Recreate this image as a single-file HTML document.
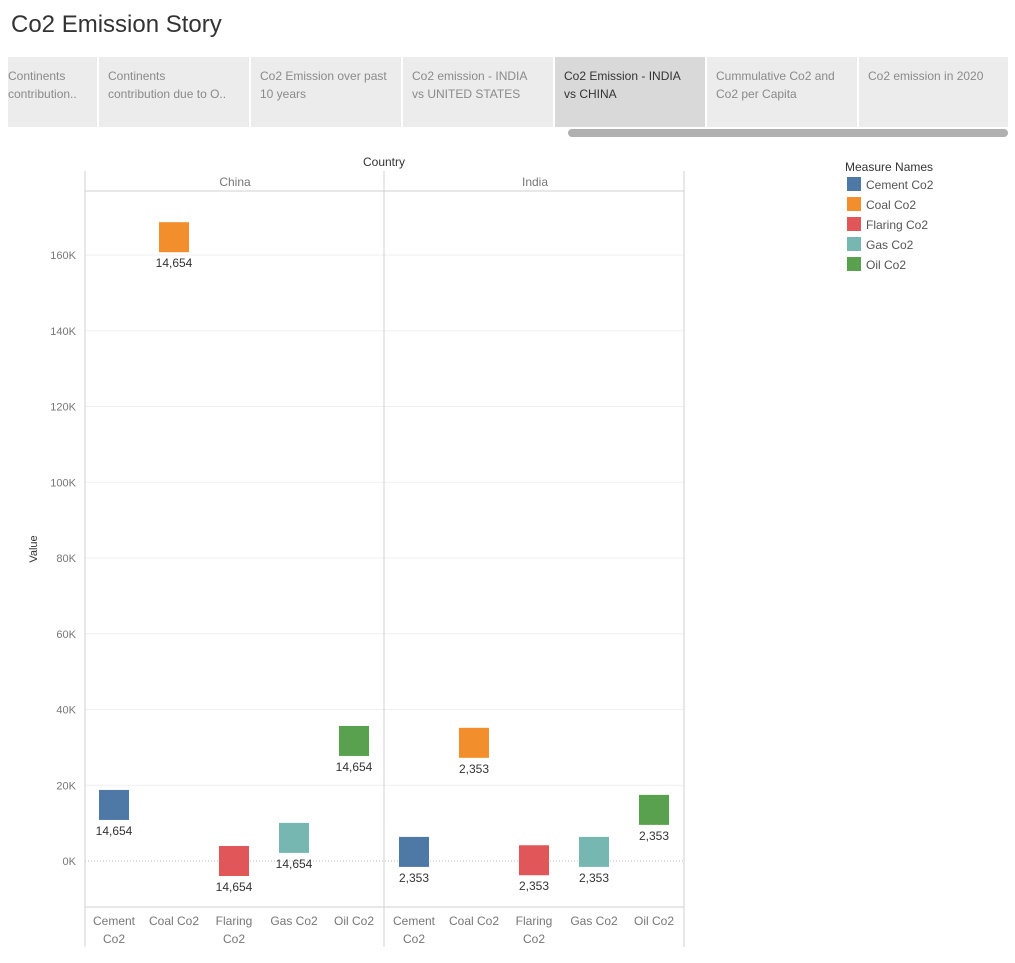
<!DOCTYPE html>
<html><head><meta charset="utf-8"><style>
body{margin:0;width:1015px;height:963px;background:#fff;font-family:"Liberation Sans",sans-serif;position:relative;overflow:hidden}
.t{position:absolute}
.tab{position:absolute;top:57px;height:70px;background:#ececec;color:#8a8a8a;font-size:12px;line-height:18px;padding:10px 0 0 0;box-sizing:border-box}
.tab span{display:block;margin-left:9px}
</style></head><body>
<div class="t" style="left:11px;top:11px;font-size:24px;color:#333">Co2 Emission Story</div>
<div class="tab" style="left:8px;width:89px"><span style="margin-left:0">Continents<br>contribution..</span></div>
<div class="tab" style="left:99px;width:150px"><span>Continents<br>contribution due to O..</span></div>
<div class="tab" style="left:251px;width:150px"><span>Co2 Emission over past<br>10 years</span></div>
<div class="tab" style="left:403px;width:150px"><span>Co2 emission - INDIA<br>vs UNITED STATES</span></div>
<div class="tab" style="left:555px;width:150px;background:#d9d9d9;color:#333"><span>Co2 Emission - INDIA<br>vs CHINA</span></div>
<div class="tab" style="left:707px;width:150px"><span>Cummulative Co2 and<br>Co2 per Capita</span></div>
<div class="tab" style="left:859px;width:149px"><span>Co2 emission in 2020</span></div>
<div class="t" style="left:568px;top:129px;width:440px;height:8px;border-radius:4px;background:#b0b0b0"></div>

<svg class="t" style="left:0;top:0" width="1015" height="963" id="chart"></svg>
<script>
const countries=["China","India"];
const categories=["Cement Co2","Coal Co2","Flaring Co2","Gas Co2","Oil Co2"];
const catLines=[["Cement","Co2"],["Coal Co2"],["Flaring","Co2"],["Gas Co2"],["Oil Co2"]];
const colors=["#4e79a7","#f28e2b","#e15759","#76b7b2","#59a14f"];
const chinaValues=[14.8,164.7,0,6.1,31.7];
const indiaValues=[2.4,31.2,0.2,2.4,13.5];
const chinaLabels=["14,654","14,654","14,654","14,654","14,654"];
const indiaLabels=["2,353","2,353","2,353","2,353","2,353"];
const yTicks=[0,20,40,60,80,100,120,140,160];
const series=[chinaValues,indiaValues];
const labels=[chinaLabels,indiaLabels];
const NS="http://www.w3.org/2000/svg";
const svg=document.getElementById('chart');
const y=v=>861-v*3.7875;
const px0=85,pw=300,colW=60;
const x=(p,c)=>px0+p*pw+c*colW+29;
function el(t,a,txt){const e=document.createElementNS(NS,t);for(const k in a)e.setAttribute(k,a[k]);if(txt!==undefined)e.textContent=txt;svg.appendChild(e);return e;}
yTicks.forEach(v=>{if(v===0)return;const g=el('line',{x1:85,x2:684,y1:y(v),y2:y(v),stroke:'#efefef'});

});
const z=el('line',{x1:85,x2:684,y1:y(0),y2:y(0),stroke:'#bbb','stroke-dasharray':'1,2'});


yTicks.forEach(v=>{const t=el('text',{x:76,y:y(v)+4,'text-anchor':'end','font-size':11,fill:'#777'},v+'K');

});
[[85,171,85,947],[384,171,384,947],[684,171,684,947],[85,191,684,191],[85,907,684,907]].forEach(l=>{const e=el('line',{x1:l[0],y1:l[1],x2:l[2],y2:l[3],stroke:'#d0d0d0'});

});
const ct=el('text',{x:384,y:166,'text-anchor':'middle','font-size':12,fill:'#333'},'Country');


const yt=el('text',{x:37,y:549,'text-anchor':'middle','font-size':11,fill:'#333',transform:'rotate(-90 37 549)'},'Value');


countries.forEach((c,p)=>{
 const h=el('text',{x:px0+p*pw+150,y:186,'text-anchor':'middle','font-size':12,fill:'#777'},c);
 
 
 categories.forEach((cat,i)=>{
  const cx=x(p,i);
  catLines[i].forEach((ln,j)=>{const t=el('text',{x:cx,y:925+j*18,'text-anchor':'middle','font-size':12,fill:'#777'},ln);
  
  });
  const v=series[p][i];
  const r=el('rect',{x:cx-15,y:y(v)-15,width:30,height:30,fill:colors[i]});
  
  
  const l=el('text',{x:cx,y:y(v)+30,'text-anchor':'middle','font-size':12,fill:'#333'},labels[p][i]);
  
  
 });
});
const lt=el('text',{x:845,y:171,'font-size':12,fill:'#333'},'Measure Names');


categories.forEach((cat,i)=>{
 const s=el('rect',{x:847,y:177+i*20,width:14,height:14,fill:colors[i]});
 
 
 const t=el('text',{x:866,y:189+i*20,'font-size':12,fill:'#555'},cat);
 
 
});
</script>
</body></html>
